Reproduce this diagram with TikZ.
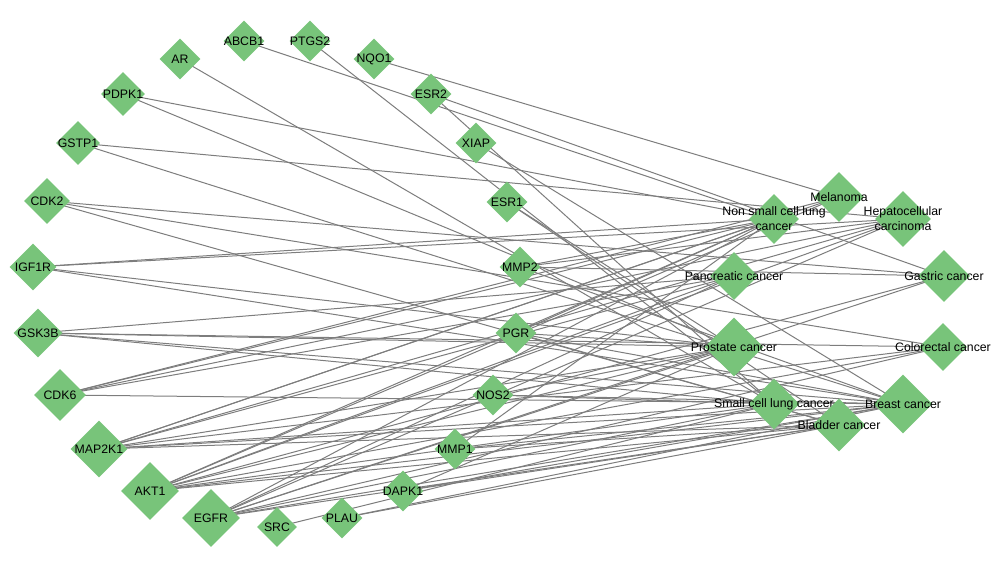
\documentclass[tikz,border=0pt]{standalone}
\usepackage{fontspec}
\setmainfont{Liberation Sans}
\usetikzlibrary{shapes.geometric, backgrounds}
\definecolor{nodegreen}{RGB}{120,196,122}
\definecolor{edgegray}{RGB}{125,125,125}

\begin{document}
\begin{tikzpicture}[x=1pt, y=-1pt,
        dia/.style={diamond, fill=nodegreen, inner sep=0pt, minimum size=#1},
        lbltext/.style={align=center, font=\fontsize{12.3}{15}\selectfont, inner sep=0pt},
        edgeline/.style={draw=edgegray, line width=1pt}]
    \useasboundingbox (0,0) rectangle (1000,561);
    % genes
    \foreach \n/\t/\x/\y/\s in {abcb1/ABCB1/244/41/41, ptgs2/PTGS2/310/41/41, ar/AR/180/59/41,
            nqo1/NQO1/374/59/41, esr2/ESR2/431/94/41, pdpk1/PDPK1/123/94/44, xiap/XIAP/476/143/41,
            gstp1/GSTP1/78/143/44, esr1/ESR1/507/202/41, cdk2/CDK2/47/201/46, mmp2/MMP2/520/267/41,
            igf1r/IGF1R/33/267/47, pgr/PGR/516/333/41, gsk3b/GSK3B/38/333/49, nos2/NOS2/493/395/41,
            cdk6/CDK6/60/395/52, mmp1/MMP1/455/449/41, map2k1/MAP2K1/99/449/57, dapk1/DAPK1/403/491/41,
            akt1/AKT1/150/491/58, plau/PLAU/342/518/41, egfr/EGFR/211/518/58, src/SRC/277/527/40}{
        \node[dia=\s, label={[lbltext]center:\t}] (\n) at (\x,\y) {};
    }
    % cancers
    \foreach \n/\t/\x/\y/\s in {mel/Melanoma/839/197/50, nsclc/{Non small cell lung\\cancer}/774/219/50,
            hcc/{Hepatocellular\\carcinoma}/903/219/56, panc/Pancreatic cancer/734/276/48,
            gast/Gastric cancer/944/276/52, pros/Prostate cancer/734/347/59,
            crc/Colorectal cancer/943/347/48, sclc/Small cell lung cancer/774/404/51,
            brca/Breast cancer/903/404/59, blca/Bladder cancer/839/425/53}{
        \node[dia=\s, label={[lbltext]center:\t}] (\n) at (\x,\y) {};
    }
    \begin{scope}[on background layer]
        \foreach \g/\c in {abcb1/nsclc, ptgs2/sclc, ar/sclc, nqo1/mel, esr2/gast, esr2/sclc,
                xiap/brca, esr1/pros, esr1/blca, pdpk1/nsclc, pdpk1/pros, gstp1/hcc, gstp1/brca,
                cdk2/gast, cdk2/crc, cdk2/blca, igf1r/nsclc, igf1r/hcc, igf1r/pros, igf1r/brca,
                mmp2/nsclc, mmp2/hcc, mmp2/brca, mmp2/gast, pgr/pros, pgr/brca, pgr/blca, pgr/nsclc,
                gsk3b/panc, gsk3b/pros, gsk3b/crc, gsk3b/brca, gsk3b/sclc, nos2/sclc, nos2/brca, nos2/pros,
                cdk6/nsclc, cdk6/mel, cdk6/hcc, cdk6/panc, cdk6/brca,
                map2k1/nsclc, map2k1/mel, map2k1/hcc, map2k1/panc, map2k1/pros, map2k1/crc,
                map2k1/sclc, map2k1/brca, map2k1/blca, mmp1/nsclc, mmp1/brca, mmp1/blca,
                akt1/nsclc, akt1/mel, akt1/hcc, akt1/panc, akt1/gast, akt1/pros, akt1/crc,
                akt1/sclc, akt1/brca, akt1/blca, dapk1/blca, dapk1/brca, dapk1/pros,
                egfr/nsclc, egfr/hcc, egfr/panc, egfr/gast, egfr/pros, egfr/crc, egfr/sclc,
                egfr/brca, egfr/blca, plau/brca, plau/blca, src/sclc}{
            \draw[edgeline] (\g.center) -- (\c.center);
        }
    \end{scope}
\end{tikzpicture}
\end{document}
